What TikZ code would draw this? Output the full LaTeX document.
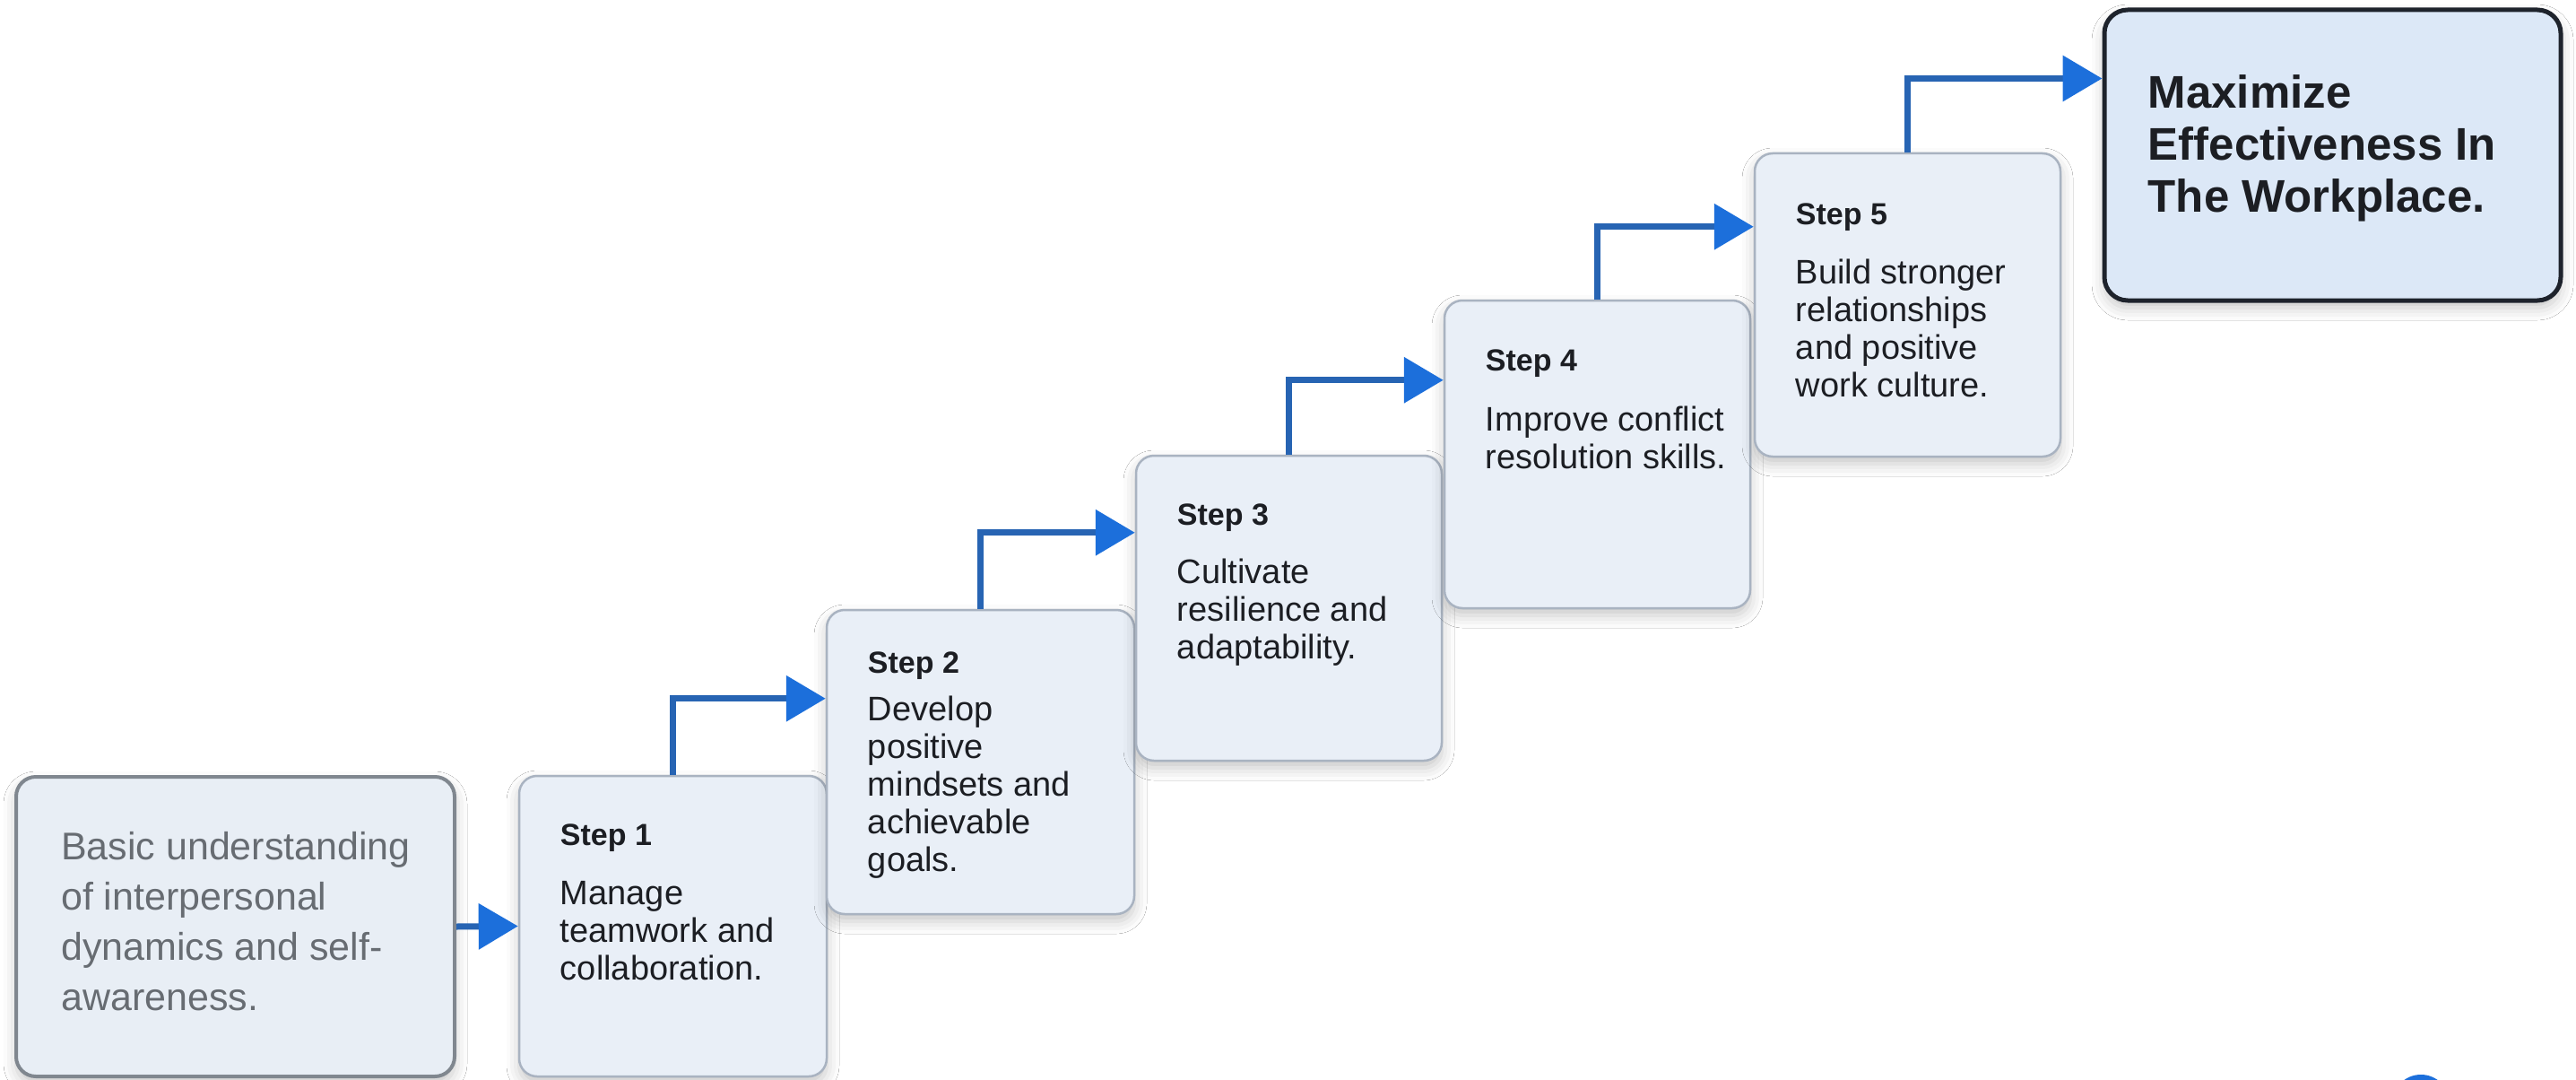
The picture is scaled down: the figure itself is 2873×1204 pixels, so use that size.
\documentclass[tikz,border=0pt]{standalone}
\usepackage{fontspec}
\setmainfont{Liberation Sans}
\usetikzlibrary{arrows.meta,calc,shadows.blur}
\definecolor{boxfill}{HTML}{E9EFF7}
\definecolor{boxborder}{HTML}{A9B3C1}
\definecolor{startfill}{HTML}{E8EEF5}
\definecolor{startborder}{HTML}{80878F}
\definecolor{starttext}{HTML}{676C72}
\definecolor{steptext}{HTML}{1C1E23}
\definecolor{finalfill}{HTML}{DCE8F7}
\definecolor{finalborder}{HTML}{1E232C}
\definecolor{linkblue}{HTML}{2764B3}
\definecolor{headblue}{HTML}{1C6FDB}
\begin{document}
\begin{tikzpicture}[x=1pt,y=-1pt,
  softshadow/.style={blur shadow={shadow xshift=0pt,shadow yshift=-8pt,shadow blur radius=14pt,shadow opacity=22}},
  stepbox/.style={draw=boxborder, line width=2.5pt, fill=boxfill, rounded corners=20pt, inner sep=0pt, softshadow},
  startbox/.style={draw=startborder, line width=4pt, fill=startfill, rounded corners=22pt, inner sep=0pt, softshadow},
  finalbox/.style={draw=finalborder, line width=5pt, fill=finalfill, rounded corners=26pt, inner sep=0pt, softshadow},
  steplabel/.style={anchor=base west, inner sep=0pt, text=steptext, font=\fontsize{34}{40}\selectfont\bfseries},
  stepbody/.style={anchor=north west, inner sep=0pt, align=left, text=steptext, font=\fontsize{38}{42}\selectfont},
  starttxt/.style={anchor=north west, inner sep=0pt, align=left, text=starttext, font=\fontsize{43}{56}\selectfont},
  finaltxt/.style={anchor=north west, inner sep=0pt, align=left, text=steptext, font=\fontsize{51}{58}\selectfont\bfseries},
  link/.style={draw=linkblue, line width=7pt, line join=miter, -{Triangle[length=44pt,width=50pt,color=headblue]}}
]
\fill[white] (0,0) rectangle (2873,1204);
\useasboundingbox (0,0) rectangle (2873,1204);

% boxes
\node[startbox, minimum width=489pt, minimum height=334pt] (start) at (262.5,1033) {};
\node[stepbox, minimum width=343pt, minimum height=335pt] (s1) at (750.5,1032.5) {};
\node[stepbox, minimum width=343pt, minimum height=339pt] (s2) at (1093.5,849.5) {};
\node[stepbox, minimum width=341pt, minimum height=340pt] (s3) at (1437.5,678) {};
\node[stepbox, minimum width=341pt, minimum height=343pt] (s4) at (1781.5,506.5) {};
\node[stepbox, minimum width=341pt, minimum height=338pt] (s5) at (2127.5,340) {};
\node[finalbox, minimum width=509pt, minimum height=324pt] (final) at (2601.5,173) {};

% texts
\node[starttxt] (starttext) at ($(start.north west)+(52,55)$) {\strut Basic understanding\\of interpersonal\\dynamics and self-\\awareness.};

\node[steplabel] (s1h) at ($(s1.north west)+(47,79)$) {Step 1};
\node[stepbody] (s1b) at ($(s1.north west)+(47,115.6)$) {\strut Manage\\teamwork and\\collaboration.};

\node[steplabel] (s2h) at ($(s2.north west)+(47,72)$) {Step 2};
\node[stepbody] (s2b) at ($(s2.north west)+(47,95.6)$) {\strut Develop\\positive\\mindsets and\\achievable\\goals.};

\node[steplabel] (s3h) at ($(s3.north west)+(47,79)$) {Step 3};
\node[stepbody] (s3b) at ($(s3.north west)+(47,114.6)$) {\strut Cultivate\\resilience and\\adaptability.};

\node[steplabel] (s4h) at ($(s4.north west)+(47,80)$) {Step 4};
\node[stepbody] (s4b) at ($(s4.north west)+(47,117.6)$) {\strut Improve conflict\\resolution skills.};

\node[steplabel] (s5h) at ($(s5.north west)+(47,81)$) {Step 5};
\node[stepbody] (s5b) at ($(s5.north west)+(47,117.6)$) {\strut Build stronger\\relationships\\and positive\\work culture.};

\node[finaltxt] (finaltext) at ($(final.north west)+(51,71.4)$) {\strut Maximize\\Effectiveness In\\The Workplace.};

% arrow targets
\coordinate (t2) at ($(s2.north west)+(0,100)$);
\coordinate (t3) at ($(s3.north west)+(0,87)$);
\coordinate (t4) at ($(s4.north west)+(0,90)$);
\coordinate (t5) at ($(s5.north west)+(0,83)$);
\coordinate (tf) at ($(final.north west)+(0,79)$);

% connectors
\draw[link] (start.east) -- (s1.west);
\draw[link] (s1.north) |- (t2);
\draw[link] (s2.north) |- (t3);
\draw[link] (s3.north) |- (t4);
\draw[link] (s4.north) |- (t5);
\draw[link] (s5.north) |- (tf);

% corner mark
\fill[headblue] (2700,1230) circle[radius=32pt];
\end{tikzpicture}
\end{document}
